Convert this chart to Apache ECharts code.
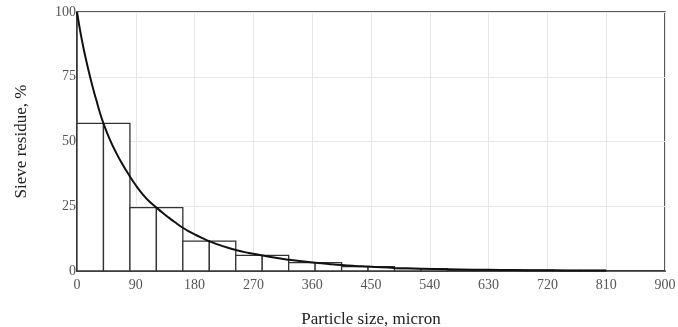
<!DOCTYPE html>
<html><head><meta charset="utf-8">
<script src="https://cdn.jsdelivr.net/npm/echarts@6/dist/echarts.min.js"></script>
<style>html,body{margin:0;padding:0;background:#fff}#c{width:678px;height:327px}</style>
</head><body><div id="c"></div>
<script>
// Histogram bins (micron) and residue (%)
const binStart = [0,40.5,81,121.5,162,202.5,243,283.5,324,364.5,405,445.5,486,526.5,567,607.5,648,688.5,729,769.5];
const binEnd   = [40.5,81,121.5,162,202.5,243,283.5,324,364.5,405,445.5,486,526.5,567,607.5,648,688.5,729,769.5,810];
const binValue = [57,57,24.5,24.5,11.5,11.5,6,6,3.2,3.2,1.7,1.7,0.9,0.9,0.5,0.5,0.3,0.3,0.2,0.2];
// Residue curve points
const curveX = [0,5,10,15,20,25,30,35,40.5,50,60,70,81,90,100,110,121.5,130,140,150,162,172,182,192,202.5,222,243,263,283.5,304,324,344,364.5,385,405,425,445.5,466,486,506,526.5,567,607.5,648,688.5,729,769.5,810];
const curveY = [100,92.5,86,80.3,75,70.1,65.6,61.2,57,50.9,45.6,41,36.5,33.1,29.8,27,24.5,22.7,20.7,18.8,16.7,15.2,13.9,12.7,11.5,9.7,8.1,6.95,6,5.1,4.35,3.72,3.2,2.72,2.3,1.97,1.7,1.43,1.2,1.03,0.9,0.7,0.5,0.4,0.3,0.25,0.2,0.15];
const xTicks = [0,90,180,270,360,450,540,630,720,810,900];
const yTicks = [0,25,50,75,100];

const font = '"Liberation Serif", "DejaVu Serif", serif';
const chart = echarts.init(document.getElementById('c'), null, {renderer:'canvas'});
const barData = binStart.map((s,i)=>[s, binEnd[i], binValue[i]]);
const curveData = curveX.map((x,i)=>[x, curveY[i]]);

chart.setOption({
  animation:false,
  grid:{left:77,right:13,top:12,bottom:56,outerBoundsMode:'none',containLabel:false,show:true,borderColor:'#222',borderWidth:1.5,backgroundColor:'transparent'},
  xAxis:{
    type:'value', min:xTicks[0], max:xTicks[xTicks.length-1], interval:90,
    name:'Particle size, micron', nameLocation:'middle', nameGap:40,
    nameTextStyle:{fontFamily:font,fontSize:17,color:'#222'},
    axisLine:{show:true,onZero:false,lineStyle:{color:'#333',width:1.5}},
    axisTick:{show:false},
    axisLabel:{fontFamily:font,fontSize:14,color:'#555',margin:7},
    splitLine:{show:true,lineStyle:{color:'#e8e8e8',width:1}}
  },
  yAxis:{
    type:'value', min:yTicks[0], max:yTicks[yTicks.length-1], interval:25,
    name:'Sieve residue, %', nameLocation:'middle', nameGap:47,
    nameTextStyle:{fontFamily:font,fontSize:17,color:'#222'},
    axisLine:{show:true,onZero:false,lineStyle:{color:'#333',width:1.5}},
    axisTick:{show:false},
    axisLabel:{fontFamily:font,fontSize:14,color:'#555',margin:1},
    splitLine:{show:true,lineStyle:{color:'#e8e8e8',width:1}}
  },
  series:[{
    type:'custom',
    data:barData,
    encode:{x:[0,1],y:2},
    renderItem:function(params, api){
      const p0 = api.coord([api.value(0), api.value(2)]);
      const p1 = api.coord([api.value(1), 0]);
      return {type:'rect', shape:{x:p0[0], y:p0[1], width:p1[0]-p0[0], height:p1[1]-p0[1]},
        style:{fill:'#fff', stroke:'#333', lineWidth:1.3}};
    },
    z:2
  },{
    type:'line', data:curveData, smooth:0.5, symbol:'none',
    lineStyle:{color:'#111',width:2}, z:3
  }]
});
</script></body></html>
